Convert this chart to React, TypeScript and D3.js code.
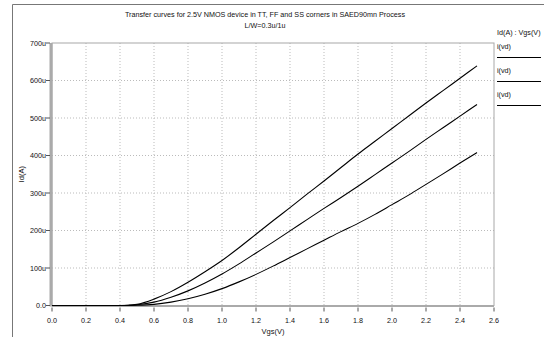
import React from "react";
import * as d3 from "d3";

const vgs = [0.0, 0.1, 0.2, 0.3, 0.4, 0.45, 0.5, 0.6, 0.7, 0.8, 0.9, 1.0, 1.1, 1.2, 1.3, 1.4, 1.5, 1.6, 1.7, 1.8, 1.9, 2.0, 2.1, 2.2, 2.3, 2.4, 2.5];
// currents in uA
const idFF = [0, 0, 0, 0, 0.1, 0.6, 3, 17, 37, 62, 90, 120, 154, 190, 226, 261, 297, 332, 368, 404, 438, 472, 506, 540, 573, 606, 639];
const idTT = [0, 0, 0, 0, 0.05, 0.4, 2, 9, 22, 39, 60, 84, 111, 140, 169, 199, 229, 259, 288, 318, 349, 380, 411, 443, 474, 505, 536];
const idSS = [0, 0, 0, 0, 0.02, 0.2, 0.6, 3, 9, 18, 30, 45, 63, 83, 105, 128, 151, 174, 197, 219, 243, 269, 295, 323, 351, 380, 408];
const series = [idFF, idTT, idSS];
const xTicks = [0, 0.2, 0.4, 0.6, 0.8, 1.0, 1.2, 1.4, 1.6, 1.8, 2.0, 2.2, 2.4, 2.6];
const yTicks = [0, 100, 200, 300, 400, 500, 600, 700];
const yTickLabels = ["0.0", "100u", "200u", "300u", "400u", "500u", "600u", "700u"];
const legendTitle = "Id(A) : Vgs(V)";
const legendNames = ["i(vd)", "i(vd)", "i(vd)"];
const title1 = "Transfer curves for 2.5V NMOS device in TT, FF and SS corners in SAED90mn Process";
const title2 = "L/W=0.3u/1u";

export default function App() {
  const W = 544, H = 337;
  const L = 52, R = 494, T = 43, B = 305.5;
  const x = d3.scaleLinear().domain([0, 2.6]).range([L, R]);
  const y = d3.scaleLinear().domain([0, 700]).range([B, T]);
  const line = d3
    .line<number>()
    .x((_, i) => x(vgs[i]))
    .y((d) => y(d))
    .curve(d3.curveMonotoneX);
  const font = "'Liberation Sans', Arial, sans-serif";
  return (
    <svg
      width={W}
      height={H}
      style={{ position: "absolute", left: 0, top: 0, background: "#fff" }}
      fontFamily={font}
    >
      <rect x={0} y={0} width={W} height={H} fill="#fff" />
      {/* outer frame */}
      <line x1={12.5} y1={4.5} x2={W} y2={4.5} stroke="#777" strokeWidth={1} />
      <line x1={12.5} y1={4.5} x2={12.5} y2={H} stroke="#777" strokeWidth={1} />
      {/* titles */}
      <text x={265} y={17} fontSize={7.2} textAnchor="middle" fill="#111">{title1}</text>
      <text x={265} y={28} fontSize={7.2} textAnchor="middle" fill="#111">{title2}</text>
      {/* grid */}
      {xTicks.slice(1, -1).map((t) => (
        <line key={"gx" + t} x1={x(t)} x2={x(t)} y1={T} y2={B} stroke="#bbb" strokeWidth={1} strokeDasharray="1,2" />
      ))}
      {yTicks.slice(1, -1).map((t) => (
        <line key={"gy" + t} x1={L} x2={R} y1={y(t)} y2={y(t)} stroke="#bbb" strokeWidth={1} strokeDasharray="1,2" />
      ))}
      {/* plot frame */}
      <rect x={L} y={T} width={R - L} height={B - T} fill="none" stroke="#a8a8a8" strokeWidth={1} />
      <line x1={L - 1} x2={L - 1} y1={T} y2={B + 1} stroke="#aaa" strokeWidth={3} />
      <line x1={L} x2={R} y1={B + 0.5} y2={B + 0.5} stroke="#aaa" strokeWidth={2} />
      {/* y ticks */}
      {yTicks.map((t, i) => (
        <g key={"yt" + t}>
          <line x1={L - 6} x2={L - 2} y1={y(t)} y2={y(t)} stroke="#555" strokeWidth={1} />
          <text x={L - 6} y={y(t) + 2.5} fontSize={7.2} textAnchor="end" fill="#111">{yTickLabels[i]}</text>
        </g>
      ))}
      {/* x ticks */}
      {xTicks.map((t) => (
        <g key={"xt" + t}>
          <line x1={x(t)} x2={x(t)} y1={B + 2} y2={B + 6} stroke="#555" strokeWidth={1} />
          <text x={x(t)} y={B + 17} fontSize={7.2} textAnchor="middle" fill="#111">{t.toFixed(1)}</text>
        </g>
      ))}
      <text x={(L + R) / 2} y={B + 28} fontSize={7.5} textAnchor="middle" fill="#111">Vgs(V)</text>
      <text transform={`translate(24,${(T + B) / 2}) rotate(-90)`} fontSize={7.5} textAnchor="middle" fill="#111">Id(A)</text>
      {/* curves */}
      {series.map((s, i) => (
        <path key={"s" + i} d={line(s) || ""} fill="none" stroke="#000" strokeWidth={1.1} />
      ))}
      {/* legend */}
      <text x={497} y={35} fontSize={7.2} fill="#111">{legendTitle}</text>
      {legendNames.map((n, i) => (
        <g key={"lg" + i}>
          <text x={497} y={49 + i * 24} fontSize={7.2} fill="#111">{n}</text>
          <line x1={497} x2={541} y1={57.5 + i * 24} y2={57.5 + i * 24} stroke="#000" strokeWidth={1} />
        </g>
      ))}
    </svg>
  );
}
